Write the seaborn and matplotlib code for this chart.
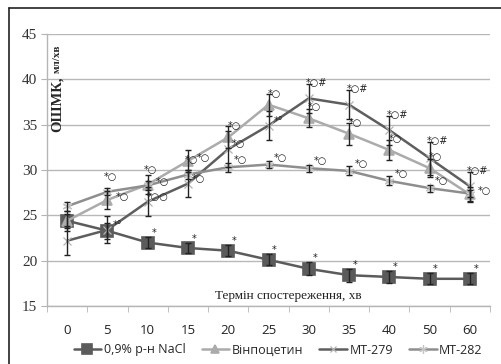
import numpy as np
import pandas as pd
import seaborn as sns
import matplotlib
matplotlib.use("Agg")
from matplotlib import pyplot as plt
from matplotlib.lines import Line2D

# data
times = ["0", "5", "10", "15", "20", "25", "30", "35", "40", "50", "60"]
series = ["0,9% р-н NaCl", "Вінпоцетин", "МТ-279", "МТ-282"]

nacl = [24.4, 23.3, 22.0, 21.4, 21.1, 20.1, 19.1, 18.4, 18.2, 18.0, 18.0]
vinp = [24.4, 26.7, 28.4, 31.0, 33.6, 37.2, 35.7, 34.0, 32.2, 30.2, 27.3]
mt279 = [22.2, 23.4, 26.5, 28.5, 32.3, 34.9, 37.9, 37.2, 34.4, 31.3, 28.2]
mt282 = [26.0, 27.6, 28.3, 29.5, 30.3, 30.6, 30.2, 29.9, 28.8, 28.0, 27.4]

nacl_err = [1.1, 0.9, 0.6, 0.6, 0.6, 0.6, 0.7, 0.7, 0.7, 0.6, 0.6]
vinp_err = [0.8, 1.0, 1.0, 1.2, 1.2, 1.2, 1.0, 1.2, 1.1, 1.0, 0.8]
mt279_err = [1.6, 1.5, 1.6, 1.5, 2.0, 1.6, 1.6, 1.6, 1.6, 1.8, 1.6]
mt282_err = [0.5, 0.4, 0.5, 0.5, 0.5, 0.4, 0.4, 0.5, 0.5, 0.4, 0.4]

nacl_marks = ["", "", "*", "*", "*", "*", "*", "*", "*", "*", "*"]
vinp_marks = ["", "*○", "*○", "*○", "*○", "*○", "*○", "*○", "*○", "*○", "*○"]
mt279_marks = ["", "*°", "*○○", "*○", "*○", "*°", "*○#", "*○#", "*○#", "*○#", "*○#"]
mt282_marks = ["", "*○", "*○", "*○", "*○", "*○", "*○", "*○", "*○", "*○", ""]

values = [nacl, vinp, mt279, mt282]
errors = [nacl_err, vinp_err, mt279_err, mt282_err]
colors = ["#5b5b5b", "#ababab", "#5e5e5e", "#8e8e8e"]
mcolors = ["#5b5b5b", "#ababab", "#b4b4b4", "#c4c4c4"]
markers = ["s", "^", "x", (6, 2, 0)]
msizes = [8, 7, 6, 7]
mews = [1.2, 1.2, 0.9, 0.9]

sns.set_style("white")
fig = plt.figure(figsize=(5.01, 3.64), dpi=100)
ax = fig.add_axes([47 / 501, 58 / 364, 443 / 501, 272 / 364])

x = np.arange(len(times))
for name, v, c, mc, m, ms, mw in zip(series, values, colors, mcolors, markers, msizes, mews):
    d = pd.DataFrame({"pos": x, "val": v})
    sns.lineplot(data=d, x="pos", y="val", color=c, marker=m, markersize=ms,
                 markerfacecolor=mc, markeredgecolor=mc, markeredgewidth=mw,
                 linewidth=1.8, ax=ax, zorder=3)

for v, e in zip(values, errors):
    ax.errorbar(x, v, yerr=e, fmt="none", ecolor="#222222", elinewidth=1.0,
                capsize=2.5, capthick=1.0, zorder=4)

# significance marks
ann = dict(textcoords="offset pixels", fontsize=7, color="#222222",
           family=["DejaVu Sans"], ha="center", va="center", zorder=5)
for i in x:
    close = abs(vinp[i] - mt282[i]) < 1.6
    if nacl_marks[i]:
        ax.annotate(nacl_marks[i], (i, nacl[i] + nacl_err[i]), xytext=(6, 4), **ann)
    if vinp_marks[i]:
        off = (15, 3) if close else (6, 11)
        ax.annotate(vinp_marks[i], (i, vinp[i]), xytext=off, **ann)
    if mt282_marks[i]:
        off = (3, 15) if close else (12, 7)
        ax.annotate(mt282_marks[i], (i, mt282[i]), xytext=off, **ann)
    if mt279_marks[i]:
        if "#" in mt279_marks[i]:
            ax.annotate(mt279_marks[i], (i, mt279[i] + mt279_err[i]), xytext=(8, 1), **ann)
        else:
            ax.annotate(mt279_marks[i], (i, mt279[i]), xytext=(10, 5), **ann)

ax.set_xlim(-0.5, len(times) - 0.5)
ax.set_ylim(15, 45)
ax.set_yticks(range(15, 46, 5))
ax.set_xticks(x)
ax.set_xticklabels(times, family=["Open Sans"], fontsize=9.5, color="#222222")
ax.set_xticks(np.arange(-0.5, len(times), 1), minor=True)
ax.tick_params(axis="x", which="major", length=0, pad=13)
ax.tick_params(axis="x", which="minor", length=4, color="#b5b5b5", direction="out", bottom=True)
ax.tick_params(axis="y", length=4, color="#b5b5b5", direction="out", left=True, pad=3)
for t in ax.get_yticklabels():
    t.set_family(["Liberation Serif"])
    t.set_fontsize(11)
    t.set_color("#333333")
ax.set_xlabel("")
ax.set_ylabel("")
ax.grid(axis="y", color="#b8b8b8", linewidth=1.0)
ax.set_axisbelow(True)
for s in ["top", "right"]:
    ax.spines[s].set_visible(False)
for s in ["left", "bottom"]:
    ax.spines[s].set_color("#b5b5b5")
    ax.spines[s].set_linewidth(1.0)

ax.text(0.023, 0.96, "мл/хв", transform=ax.transAxes, rotation=90, ha="center",
        va="top", family=["Liberation Serif"], fontsize=8, fontweight="bold")
ax.text(0.023, 0.845, "ОШМК,", transform=ax.transAxes, rotation=90, ha="center",
        va="top", family=["Liberation Serif"], fontsize=10.5, fontweight="bold")
ax.text(0.544, 0.035, "Термін спостереження, хв", transform=ax.transAxes,
        ha="center", va="center", family=["Liberation Serif"], fontsize=9.5, color="#222222")

handles = [Line2D([], [], color=c, marker=m, markersize=ms - 1, linewidth=1.8,
                  markerfacecolor=mc, markeredgecolor=mc, markeredgewidth=mw)
           for c, mc, m, ms, mw in zip(colors, mcolors, markers, msizes, mews)]
fig.legend(handles, series, loc="center", bbox_to_anchor=(0.555, 14 / 364), ncol=4,
           frameon=False, prop={"family": "Open Sans", "size": 9},
           handlelength=2.2, handletextpad=0.2, columnspacing=1.3)

# outer frame (only top and left edges are visible in the crop)
fig.add_artist(Line2D([9 / 501, 9 / 501], [0, 1 - 8 / 364], color="#222222", linewidth=1.2))
fig.add_artist(Line2D([9 / 501, 1], [1 - 8 / 364, 1 - 8 / 364], color="#222222", linewidth=1.2))

fig.savefig("out.png", dpi=100)
